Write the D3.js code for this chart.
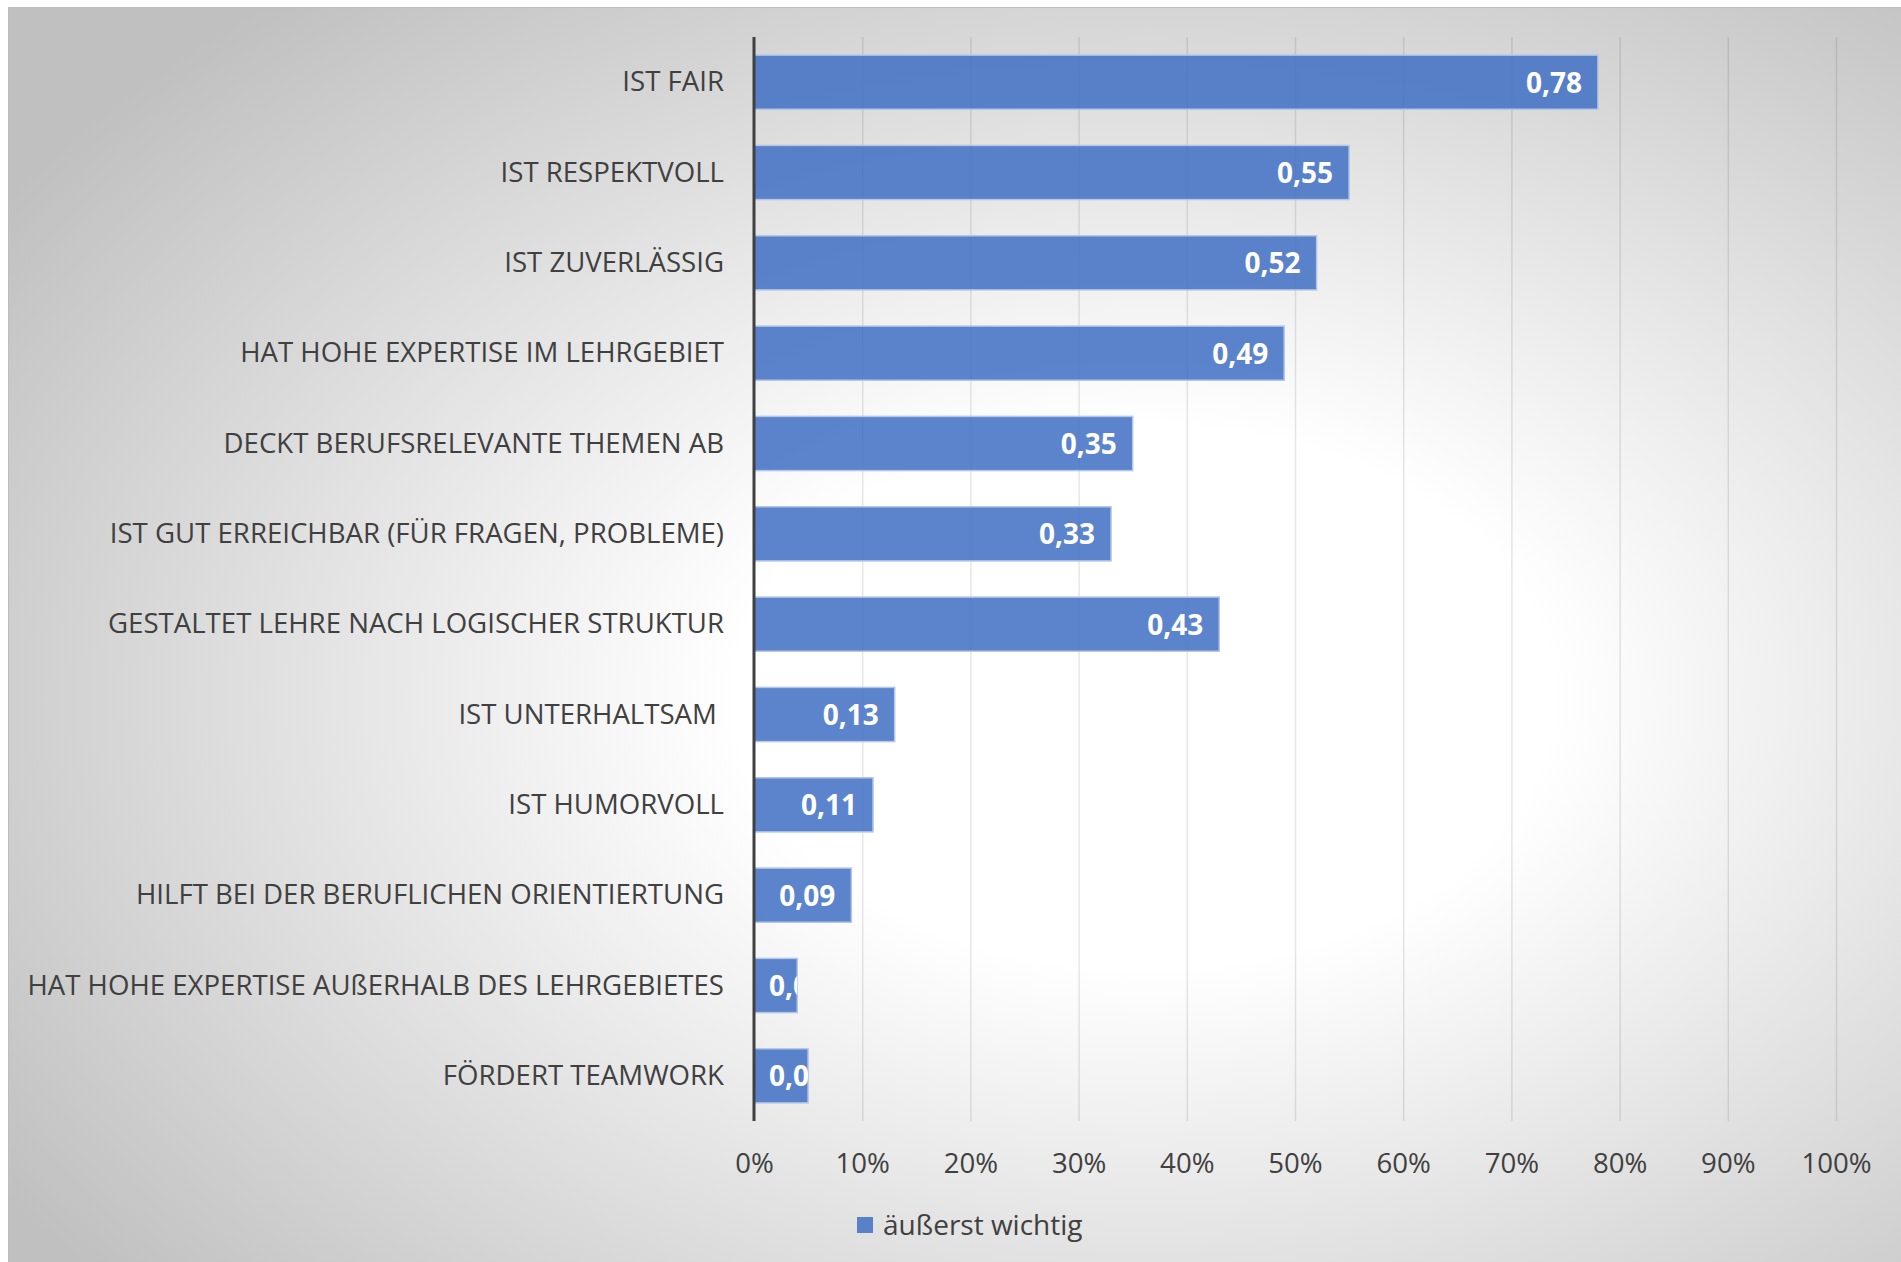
<!DOCTYPE html>
<html>
<head>
<meta charset="utf-8">
<script src="https://cdn.jsdelivr.net/npm/d3@7"></script>
<style>
  body { margin: 0; background: #ffffff; }
  svg { display: block; }
  text { font-family: "Open Sans", "Noto Sans", sans-serif; }
</style>
</head>
<body>
<svg id="s" width="1901" height="1262"></svg>
<script>
var categories = [
  "IST FAIR",
  "IST RESPEKTVOLL",
  "IST ZUVERLÄSSIG",
  "HAT HOHE EXPERTISE IM LEHRGEBIET",
  "DECKT BERUFSRELEVANTE THEMEN AB",
  "IST GUT ERREICHBAR (FÜR FRAGEN, PROBLEME)",
  "GESTALTET LEHRE NACH LOGISCHER STRUKTUR",
  "IST UNTERHALTSAM ",
  "IST HUMORVOLL",
  "HILFT BEI DER BERUFLICHEN ORIENTIERTUNG",
  "HAT HOHE EXPERTISE AUßERHALB DES LEHRGEBIETES",
  "FÖRDERT TEAMWORK"
];
var values = [0.78, 0.55, 0.52, 0.49, 0.35, 0.33, 0.43, 0.13, 0.11, 0.09, 0.04, 0.05];
var tickValues = [0, 0.1, 0.2, 0.3, 0.4, 0.5, 0.6, 0.7, 0.8, 0.9, 1.0];
var seriesName = "äußerst wichtig";

var svg = d3.select("#s");
var defs = svg.append("defs");

// chart area background
var bg = defs.append("radialGradient").attr("id", "bg")
    .attr("cx", 0.6).attr("cy", 0.55).attr("r", 0.72);
bg.append("stop").attr("offset", 0).attr("stop-color", "#ffffff");
bg.append("stop").attr("offset", 0.3).attr("stop-color", "#ffffff");
bg.append("stop").attr("offset", 1).attr("stop-color", "#c0c0c0");

svg.append("rect").attr("x", 8).attr("y", 7).attr("width", 1893).attr("height", 1255)
    .attr("fill", "url(#bg)");
svg.append("line").attr("x1", 8).attr("x2", 1901).attr("y1", 7.5).attr("y2", 7.5)
    .attr("stroke", "#bdbdbd").attr("stroke-width", 1);
svg.append("line").attr("x1", 8.5).attr("x2", 8.5).attr("y1", 7).attr("y2", 1262)
    .attr("stroke", "#bdbdbd").attr("stroke-width", 1);

var x = d3.scaleLinear().domain([0, 1]).range([754, 1836]);
var y = d3.scaleBand().domain(categories).range([37, 1121])
    .paddingInner(0.4).paddingOuter(0.2);

// gridlines get darker toward the bottom
var gg = defs.append("linearGradient").attr("id", "grid")
    .attr("gradientUnits", "userSpaceOnUse")
    .attr("x1", 0).attr("y1", 37).attr("x2", 0).attr("y2", 1121);
gg.append("stop").attr("offset", 0).attr("stop-color", "#000").attr("stop-opacity", 0.1);
gg.append("stop").attr("offset", 1).attr("stop-color", "#000").attr("stop-opacity", 0.42);

var xAxis = d3.axisBottom(x).tickValues(tickValues)
    .tickSize(-(1121 - 37)).tickPadding(20)
    .tickFormat(function(d) { return Math.round(d * 100) + "%"; });

var ax = svg.append("g").attr("transform", "translate(0,1121)").call(xAxis);
ax.select(".domain").remove();
ax.selectAll(".tick line").attr("stroke", "url(#grid)").attr("stroke-width", 1.5)
    .filter(function(d) { return d === 0; }).remove();
ax.selectAll(".tick text").attr("fill", "#404040").attr("font-size", 27.6)
    .attr("dy", "0.35em").attr("y", 42);

// bars
var bars = svg.append("g").selectAll("g").data(values).enter().append("g");

bars.append("clipPath").attr("id", function(d, i) { return "c" + i; })
  .append("rect")
    .attr("x", x(0))
    .attr("y", function(d, i) { return y(categories[i]); })
    .attr("width", function(d) { return x(d) - x(0); })
    .attr("height", y.bandwidth());

bars.append("rect")
    .attr("x", x(0))
    .attr("y", function(d, i) { return y(categories[i]); })
    .attr("width", function(d) { return x(d) - x(0); })
    .attr("height", y.bandwidth())
    .attr("fill", "#4472c4").attr("fill-opacity", 0.87)
    .attr("stroke", "#b4c7e7").attr("stroke-width", 1.5);

bars.append("text")
    .attr("clip-path", function(d, i) { return "url(#c" + i + ")"; })
    .attr("y", function(d, i) { return y(categories[i]) + y.bandwidth() / 2; })
    .attr("dy", "0.38em")
    .attr("fill", "#ffffff").attr("font-size", 28).attr("font-weight", "bold")
    .text(function(d) { return d.toFixed(2).replace(".", ","); })
    .each(function(d) {
      var w = this.getComputedTextLength();
      var start = x(d) - 16 - w;
      if (start < x(0) + 15) start = x(0) + 15;
      d3.select(this).attr("x", start);
    });

// category labels
svg.append("g").selectAll("text").data(categories).enter().append("text")
    .attr("x", 724)
    .attr("y", function(d) { return y(d) + y.bandwidth() / 2; })
    .attr("dy", "0.33em")
    .attr("text-anchor", "end")
    .attr("fill", "#404040").attr("font-size", 27.6)
    .style("white-space", "pre")
    .text(function(d) { return d; });

// vertical axis line
svg.append("line").attr("x1", 754).attr("x2", 754).attr("y1", 37).attr("y2", 1121)
    .attr("stroke", "#404040").attr("stroke-width", 3);

// legend
var lg = svg.append("g");
lg.append("rect").attr("x", 857).attr("y", 1217).attr("width", 16).attr("height", 16)
    .attr("fill", "#4472c4").attr("fill-opacity", 0.87);
lg.append("text").attr("x", 883).attr("y", 1225).attr("dy", "0.36em")
    .attr("fill", "#404040").attr("font-size", 28).text(seriesName);
</script>
</body>
</html>
